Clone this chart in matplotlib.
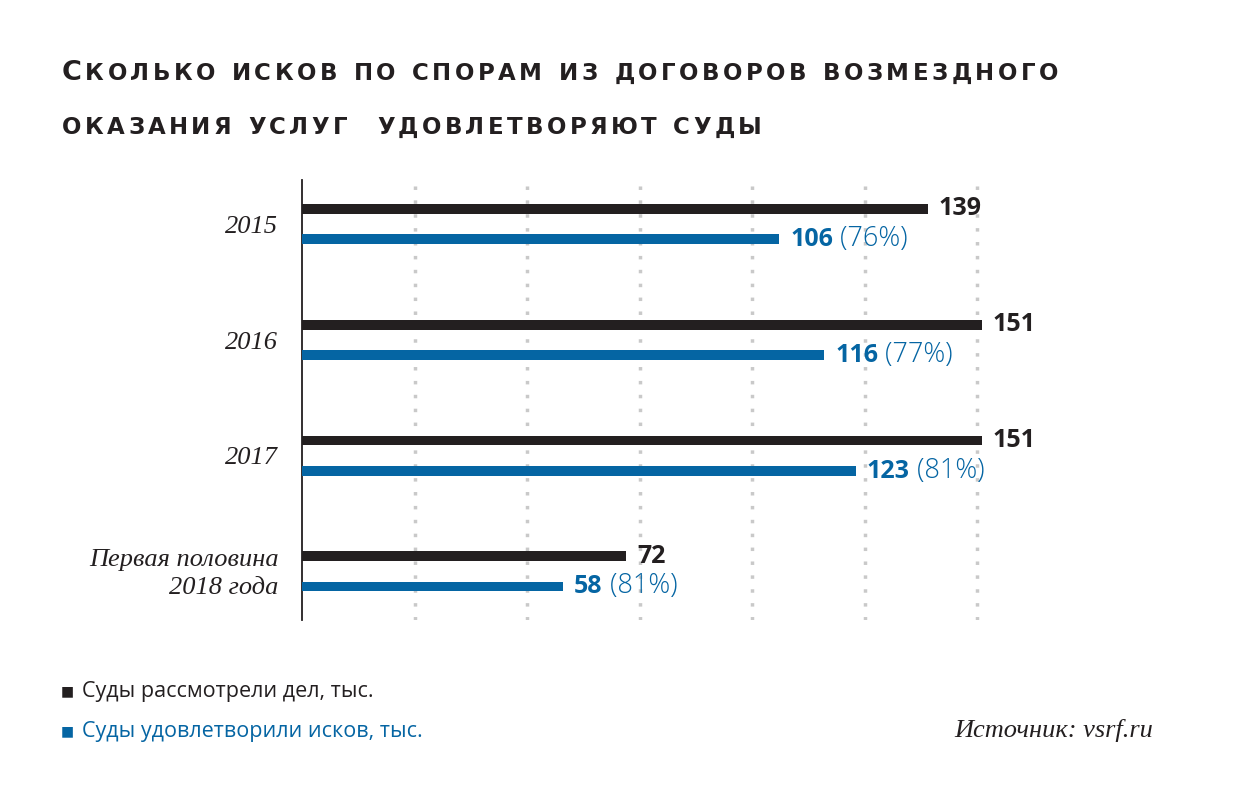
import matplotlib
matplotlib.use("Agg")
import matplotlib.pyplot as plt
from matplotlib.offsetbox import TextArea, HPacker, AnnotationBbox

categories = ["2015", "2016", "2017", "Первая половина\n2018 года"]
considered = [139, 151, 151, 72]
satisfied = [106, 116, 123, 58]
shares = ["76%", "77%", "81%", "81%"]
grid_ticks = [25, 50, 75, 100, 125, 150]

title_line1 = "Сколько исков по спорам из договоров возмездного"
title_line2 = "оказания услуг  удовлетворяют суды"
legend_labels = ["Суды рассмотрели дел, тыс.", "Суды удовлетворили исков, тыс."]
source_text = "Источник: vsrf.ru"

BLACK = "#231f20"
BLUE = "#0565a3"
GRID = "#c9c9c9"
SANS = "Open Sans"
SERIF = "Liberation Serif"
TITLE_FONT = "DejaVu Sans"

W, H = 1250, 810
fig = plt.figure(figsize=(12.5, 8.1), dpi=100)
fig.patch.set_facecolor("white")

ax_left, ax_right, ax_top, ax_bottom = 302, 1022, 180, 620
ax = fig.add_axes([ax_left / W, 1 - ax_bottom / H, (ax_right - ax_left) / W, (ax_bottom - ax_top) / H])
ax.set_xlim(0, 160)
ax.set_ylim(3.42, -0.38)

pos = list(range(len(categories)))
off = 0.13
bh = 0.085
ax.barh([p - off for p in pos], considered, height=bh, color=BLACK, zorder=3)
ax.barh([p + off for p in pos], satisfied, height=bh, color=BLUE, zorder=3)

for g in grid_ticks:
    ax.axvline(g, color=GRID, linewidth=2.5, linestyle=(0, (1, 3)), zorder=1)

for s in ["top", "right", "bottom"]:
    ax.spines[s].set_visible(False)
ax.spines["left"].set_color(BLACK)
ax.spines["left"].set_linewidth(1.3)
ax.set_xticks([])
ax.set_yticks([])

# category labels
for p, c in zip(pos, categories):
    ax.annotate(c, xy=(0, p), xycoords="data", xytext=(-17, -2), textcoords="offset points",
                ha="right", va="center", fontsize=19, family=SERIF, style="italic",
                color=BLACK, linespacing=1.35)

# value labels
for p, v in zip(pos, considered):
    ax.annotate(str(v), xy=(v, p - off), xytext=(8, 0), textcoords="offset points",
                ha="left", va="center", fontsize=18, family=SANS, weight="bold", color=BLACK)

for p, v, s in zip(pos, satisfied, shares):
    t1 = TextArea(str(v), textprops=dict(fontsize=18, family=SANS, weight="bold", color=BLUE))
    t2 = TextArea(" (" + s + ")", textprops=dict(fontsize=19.5, family=SANS, weight="light", color=BLUE))
    box = HPacker(children=[t1, t2], pad=0, sep=0, align="baseline")
    ab = AnnotationBbox(box, (v, p + off), xybox=(8, 0), xycoords="data",
                        boxcoords="offset points", box_alignment=(0, 0.5), frameon=False)
    ax.add_artist(ab)

# title: tracked small caps, placed char by char to match target width
renderer = fig.canvas.get_renderer()

def char_width(ch, size):
    t = fig.text(0, 0, ch if ch != " " else "n", fontsize=size, family=TITLE_FONT, weight="bold")
    w = t.get_window_extent(renderer).width
    t.remove()
    if ch == " ":
        w *= 0.6
    return w

def tracked_line(text, x0, x1, y, first_big):
    chars = list(text.upper())
    sizes = [16.5] * len(chars)
    if first_big:
        sizes[0] = 19.5
    widths = [char_width(c, s) for c, s in zip(chars, sizes)]
    track = ((x1 - x0) - sum(widths)) / (len(chars) - 1)
    x = x0
    for c, s, w in zip(chars, sizes, widths):
        if c != " ":
            fig.text(x / W, 1 - y / H, c, fontsize=s, family=TITLE_FONT, weight="bold",
                     color=BLACK, ha="left", va="baseline")
        x += w + track

tracked_line(title_line1, 62, 1058, 80, True)
tracked_line(title_line2, 62, 762, 134, False)

# legend
for i, (lab, col) in enumerate(zip(legend_labels, [BLACK, BLUE])):
    yy = 691 + 40 * i
    fig.text(61 / W, 1 - yy / H, "■", fontsize=10, color=col, ha="left", va="center", family="DejaVu Sans")
    fig.text(82 / W, 1 - (yy + 1) / H, lab, fontsize=15.5, family=SANS, color=col, ha="left", va="center")

fig.text(1153 / W, 1 - 731 / H, source_text, fontsize=19, family=SERIF, style="italic",
         color=BLACK, ha="right", va="center")

fig.savefig("out.png", dpi=100, facecolor="white")
